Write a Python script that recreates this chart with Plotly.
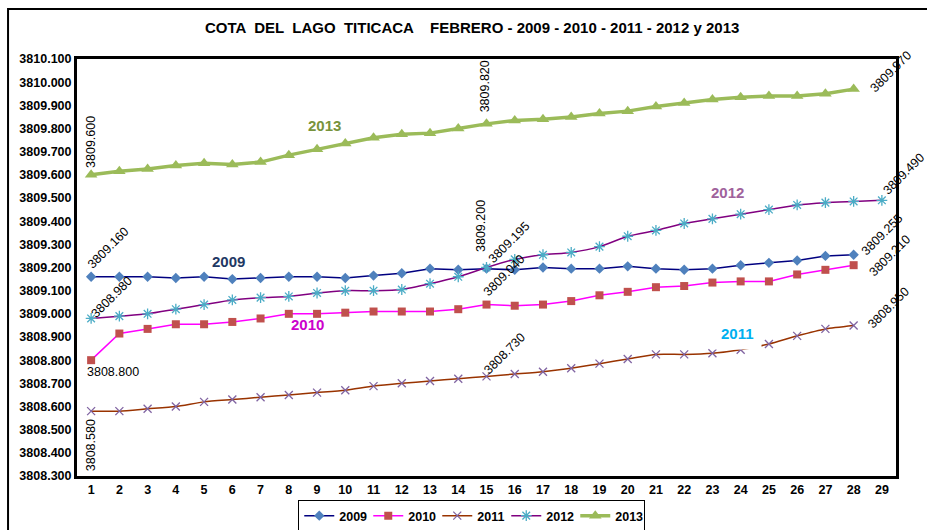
import plotly.graph_objects as go

days = list(range(1, 30))

cota_2009 = [3809.160, 3809.160, 3809.160, 3809.155, 3809.160, 3809.150, 3809.155, 3809.160,
             3809.160, 3809.155, 3809.165, 3809.175, 3809.195, 3809.190, 3809.195, 3809.190,
             3809.200, 3809.195, 3809.195, 3809.205, 3809.195, 3809.190, 3809.195, 3809.210,
             3809.220, 3809.230, 3809.250, 3809.255]
cota_2010 = [3808.800, 3808.915, 3808.935, 3808.955, 3808.955, 3808.965, 3808.980, 3809.000,
             3809.000, 3809.005, 3809.010, 3809.010, 3809.010, 3809.020, 3809.040, 3809.035,
             3809.040, 3809.055, 3809.080, 3809.095, 3809.115, 3809.120, 3809.135, 3809.140,
             3809.140, 3809.170, 3809.190, 3809.210]
cota_2011 = [3808.580, 3808.580, 3808.590, 3808.600, 3808.620, 3808.630, 3808.640, 3808.650,
             3808.660, 3808.670, 3808.688, 3808.700, 3808.710, 3808.720, 3808.730, 3808.740,
             3808.750, 3808.765, 3808.785, 3808.805, 3808.825, 3808.825, 3808.830, 3808.845,
             3808.870, 3808.905, 3808.935, 3808.950]
cota_2012 = [3808.980, 3808.990, 3809.000, 3809.020, 3809.040, 3809.060, 3809.070, 3809.075,
             3809.090, 3809.100, 3809.100, 3809.105, 3809.130, 3809.160, 3809.200, 3809.235,
             3809.255, 3809.265, 3809.290, 3809.335, 3809.360, 3809.390, 3809.410, 3809.430,
             3809.450, 3809.470, 3809.480, 3809.485, 3809.490]
cota_2013 = [3809.600, 3809.615, 3809.625, 3809.640, 3809.650, 3809.645, 3809.655, 3809.685,
             3809.710, 3809.735, 3809.760, 3809.775, 3809.780, 3809.800, 3809.820, 3809.835,
             3809.840, 3809.850, 3809.865, 3809.875, 3809.895, 3809.910, 3809.925, 3809.935,
             3809.940, 3809.940, 3809.950, 3809.970]

y_ticks = [round(3808.3 + 0.1 * i, 1) for i in range(19)]

FONT = "Liberation Sans, Arial, sans-serif"

fig = go.Figure()

def add_series(name, vals, line_color, line_width, marker_symbol, marker_color, marker_size,
               shape="linear", marker_line=None):
    marker = dict(symbol=marker_symbol, color=marker_color, size=marker_size)
    if marker_line:
        marker["line"] = dict(color=marker_line, width=1.3)
    else:
        marker["line"] = dict(width=0)
    fig.add_trace(go.Scatter(
        x=days[:len(vals)], y=vals, name=name, mode="lines+markers",
        line=dict(color=line_color, width=line_width, shape=shape, smoothing=0.6),
        marker=marker))

add_series("2009", cota_2009, "#000080", 1.5, "diamond", "#4F81BD", 8)
add_series("2010", cota_2010, "#FF00FF", 1.5, "square", "#C0504D", 8)
add_series("2011", cota_2011, "#993300", 1.5, "x-thin", "#8064A2", 8, shape="spline", marker_line="#8064A2")
add_series("2012", cota_2012, "#800080", 1.5, "asterisk", "#4BACC6", 9, shape="spline", marker_line="#4BACC6")
add_series("2013", cota_2013, "#9BBB59", 3.5, "triangle-up", "#9BBB59", 11)

annotations = []

def val_label(x, y, text, angle, xs, ys):
    annotations.append(dict(x=x, y=y, xref="x", yref="y", text=text, textangle=angle,
                            showarrow=False, xshift=xs, yshift=ys,
                            font=dict(family=FONT, size=12.5, color="black")))

val_label(1, cota_2013[0], f"{cota_2013[0]:.3f}", -90, 0, 33)
val_label(15, cota_2013[14], f"{cota_2013[14]:.3f}", -90, -2, 37)
val_label(28, cota_2013[27], f"{cota_2013[27]:.3f}", -45, 37, 17)
val_label(1, cota_2009[0], f"{cota_2009[0]:.3f}", -45, 17, 29)
val_label(1, cota_2012[0], f"{cota_2012[0]:.3f}", -45, 21, 21)
val_label(1, cota_2010[0], f"{cota_2010[0]:.3f}", 0, 22, -12)
val_label(1, cota_2011[0], f"{cota_2011[0]:.3f}", -90, 0, -34)
val_label(15, cota_2012[14], f"{cota_2012[14]:.3f}", -90, -6, 41)
val_label(15, cota_2009[14], f"{cota_2009[14]:.3f}", -45, 22, 26)
val_label(15, cota_2010[14], f"{cota_2010[14]:.3f}", -45, 17, 29)
val_label(15, cota_2011[14], f"{cota_2011[14]:.3f}", -45, 18, 22)
val_label(28, cota_2009[27], f"{cota_2009[27]:.3f}", -45, 28, 20)
val_label(28, cota_2010[27], f"{cota_2010[27]:.3f}", -45, 36, 9)
val_label(28, cota_2011[27], f"{cota_2011[27]:.3f}", -45, 35, 17)
val_label(29, cota_2012[28], f"{cota_2012[28]:.3f}", -45, 22, 26)

def series_label(x, y, text, color, bg=None):
    d = dict(x=x, y=y, xref="x", yref="y", text=f"<b>{text}</b>", showarrow=False,
             font=dict(family=FONT, size=15, color=color))
    if bg:
        d["bgcolor"] = bg
        d["borderpad"] = 7
    annotations.append(d)

series_label(9.28, 3809.811, "2013", "#77933C")
series_label(5.85, 3809.224, "2009", "#1F3864")
series_label(8.65, 3808.956, "2010", "#CC00CC")
series_label(23.55, 3809.522, "2012", "#A0629C")
series_label(23.90, 3808.917, "2011", "#00B0F0", bg="white")

annotations.append(dict(x=0.482, y=1.0767, xref="paper", yref="paper", xanchor="center",
                        yanchor="middle",
                        text="<b>COTA  DEL  LAGO  TITICACA    FEBRERO - 2009 - 2010 - 2011 - 2012 y 2013</b>",
                        showarrow=False, font=dict(family=FONT, size=15, color="black")))

fig.update_layout(
    width=927, height=530,
    margin=dict(l=77, r=31, t=59, b=54, autoexpand=False),
    paper_bgcolor="white", plot_bgcolor="white",
    font=dict(family=FONT, size=12, color="black"),
    showlegend=True,
    legend=dict(orientation="h", x=0.482, xanchor="center", y=-0.096, yanchor="middle",
                bordercolor="black", borderwidth=1,
                font=dict(family=FONT, size=12.5, color="black", weight="bold"),
                itemwidth=30, entrywidth=24, entrywidthmode="pixels",
                tracegroupgap=0, traceorder="normal"),
    annotations=annotations,
    shapes=[dict(type="rect", xref="paper", yref="paper", x0=-0.0842, y0=-0.3, x1=1.2, y1=1.1199,
                 line=dict(color="black", width=2), layer="below")],
)

fig.update_xaxes(range=[0.5, 29.5], tickmode="array", tickvals=days,
                 ticktext=[f"<b>{d}</b>" for d in days],
                 showgrid=False, zeroline=False, showline=True, linecolor="black", linewidth=3,
                 mirror=True, ticks="", tickfont=dict(family=FONT, size=12.5, color="black"))
fig.update_yaxes(range=[3808.3, 3810.1], tickmode="array", tickvals=y_ticks,
                 ticktext=[f"<b>{v:.3f}</b>" for v in y_ticks],
                 showgrid=False, zeroline=False, showline=True, linecolor="black", linewidth=3,
                 mirror=True, ticks="", tickfont=dict(family=FONT, size=12.5, color="black"))

fig.write_html("out.html", config={"displayModeBar": False},
               post_script="document.body.style.margin='0';document.body.style.overflow='hidden';")
